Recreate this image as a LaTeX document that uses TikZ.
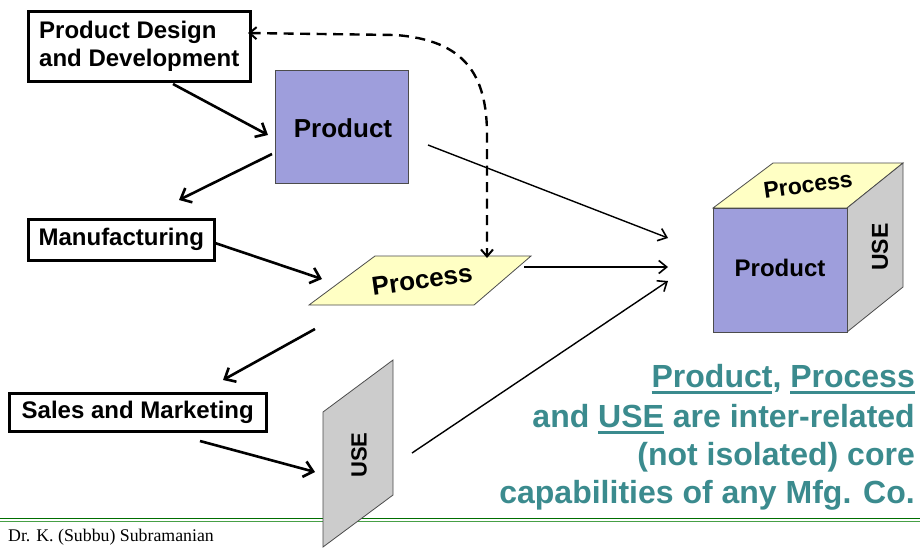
\documentclass[tikz,border=0pt]{standalone}
\usepackage{fontspec}
\setmainfont{Liberation Sans}
\newfontfamily\footerfont{Liberation Serif}
\usetikzlibrary{arrows.meta}
\definecolor{lav}{RGB}{158,158,220}
\definecolor{paleyel}{RGB}{255,255,196}
\definecolor{panelgray}{RGB}{204,204,204}
\definecolor{teal}{RGB}{59,139,142}
\definecolor{dkgreen}{RGB}{0,110,0}
\definecolor{ltgreen}{RGB}{70,160,70}
\newcommand\myul[1]{\setbox0\hbox{#1}\rlap{\rule[-6.5pt]{\wd0}{2.6pt}}\box0\relax}
\tikzset{
  boxlabel/.style={draw=black, line width=2.5pt, fill=white, font=\fontsize{24}{28}\selectfont\bfseries, align=left, inner sep=0pt},
  facefill/.style={draw=black!70, line width=0.8pt},
  thickarrow/.style={line width=2.6pt, -{Straight Barb[length=9pt,width=16pt,line width=2.6pt]}},
  thinarrow/.style={line width=1.4pt, -{Straight Barb[length=8pt,width=13pt,line width=1.6pt]}},
  dasharrow/.style={line width=2.4pt, dash pattern=on 10pt off 6.5pt, {Straight Barb[length=7pt,width=12pt,line width=2pt]}-{Straight Barb[length=7pt,width=12pt,line width=2pt]}},
  shapetext/.style={font=\fontsize{#1}{#1}\selectfont\bfseries, inner sep=0pt},
  noteline/.style={text=teal, font=\fontsize{32}{38}\selectfont\bfseries, anchor=base east, inner sep=0pt}
}
\begin{document}
\begin{tikzpicture}[x=1pt,y=-1pt]
\useasboundingbox[fill=white] (0,0) rectangle (920,547);

% footer lines
\draw[dkgreen, line width=1.4pt] (0,518.3) -- (920,518.3);
\draw[ltgreen, line width=1.3pt] (0,521.3) -- (920,521.3);
\node[anchor=base west, inner sep=0pt, font=\footerfont\fontsize{17.8}{17.8}\selectfont] (footer) at (8,541.5) {Dr. K. (Subbu) Subramanian};

% boxes
\node[boxlabel, minimum width=222pt, minimum height=70pt, anchor=north west, inner xsep=10pt] (pdd) at (27,10) {Product Design\\and Development};
\node[boxlabel, minimum width=186pt, minimum height=41pt, anchor=north west, inner xsep=10pt] (mfg) at (27,218) {Manufacturing};
\node[boxlabel, minimum width=257pt, minimum height=38pt, anchor=north west, inner xsep=5pt] (sales) at (8,392) {Sales and Marketing};

% product square
\node[facefill, fill=lav, minimum width=133pt, minimum height=113pt, anchor=north west, inner sep=0pt] (product) at (275,70) {};
\node[shapetext=26] (productlbl) at (343,128) {Product};

% process parallelogram
\draw[facefill, fill=paleyel] (375,256) -- (531,256) -- (474,305) -- (309,305) -- cycle;
\node[shapetext=26, rotate=8] (process) at (422,280) {Process};

% USE panel
\draw[facefill, fill=panelgray] (323,412) -- (393,360) -- (393,495) -- (323,547) -- cycle;
\node[shapetext=22, rotate=90] (use) at (359,455) {USE};

% cube
\draw[facefill, fill=paleyel] (713,208) -- (773,163) -- (903,163) -- (847,208) -- cycle;
\draw[facefill, fill=panelgray] (847,208) -- (903,163) -- (903,287) -- (847,332) -- cycle;
\draw[facefill, fill=lav] (713,208) rectangle (847,332);
\node[shapetext=24] (cubeproduct) at (780,268) {Product};
\node[shapetext=23, rotate=8] (cubeprocess) at (808,185) {Process};
\node[shapetext=23, rotate=90] (cubeuse) at (880,247) {USE};

% arrow end points
\coordinate (a1s) at (173,84);  \coordinate (a1e) at (268,135);
\coordinate (a2s) at (272,154); \coordinate (a2e) at (179,200);
\coordinate (a3s) at (215,243); \coordinate (a3e) at (322,279);
\coordinate (a4s) at (315,329); \coordinate (a4e) at (223,380);
\coordinate (a5s) at (200,441); \coordinate (a5e) at (315,472);
\coordinate (b1s) at (428,145); \coordinate (b1e) at (668,238);
\coordinate (b2s) at (524,267); \coordinate (b2e) at (668,267);
\coordinate (b3s) at (412,453); \coordinate (b3e) at (668,281);
\coordinate (d1) at (248,33);
\coordinate (d2) at (395,35);
\coordinate (d3) at (487,135);
\coordinate (d4) at (487,258);

\draw[thickarrow] (a1s) -- (a1e);
\draw[thickarrow] (a2s) -- (a2e);
\draw[thickarrow] (a3s) -- (a3e);
\draw[thickarrow] (a4s) -- (a4e);
\draw[thickarrow] (a5s) -- (a5e);
\draw[thinarrow] (b1s) -- (b1e);
\draw[thinarrow] (b2s) -- (b2e);
\draw[thinarrow] (b3s) -- (b3e);
\draw[dasharrow] (d1) -- (d2) .. controls (465,40) and (487,75) .. (d3) -- (d4);

% note text
\node[noteline] (n1) at (915,387) {\myul{Product}, \myul{Process}};
\node[noteline] (n2) at (915,427) {and \myul{USE} are inter-related};
\node[noteline] (n3) at (915,465) {(not isolated) core};
\node[noteline] (n4) at (915,503) {capabilities of any Mfg. Co.};
\end{tikzpicture}
\end{document}
